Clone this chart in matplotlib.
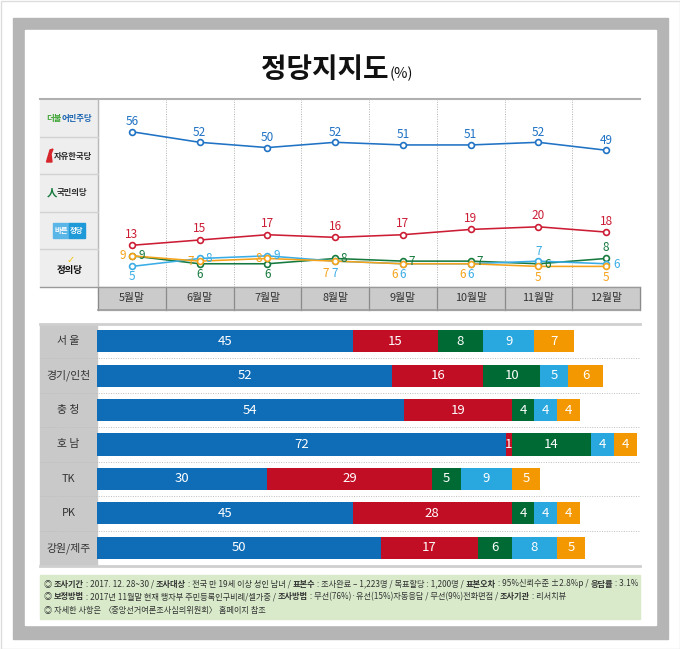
import matplotlib
matplotlib.use('Agg')
import matplotlib.pyplot as plt
from matplotlib.patches import Rectangle, Polygon
from matplotlib.lines import Line2D
from matplotlib.transforms import blended_transform_factory

plt.rcParams['font.family'] = ['Noto Sans CJK KR', 'DejaVu Sans']

# ---------------- data ----------------
months = ['5월말', '6월말', '7월말', '8월말', '9월말', '10월말', '11월말', '12월말']
parties = ['더불어민주당', '자유한국당', '국민의당', '바른정당', '정의당']
minjoo = [56, 52, 50, 52, 51, 51, 52, 49]
hankook = [13, 15, 17, 16, 17, 19, 20, 18]
kookmin = [9, 6, 6, 8, 7, 7, 6, 8]
bareun = [5, 8, 9, 7, 6, 6, 7, 6]
jeongui = [9, 7, 8, 7, 6, 6, 5, 5]

regions = ['서 울', '경기/인천', '충 청', '호 남', 'TK', 'PK', '강원/제주']
reg_minjoo = [45, 52, 54, 72, 30, 45, 50]
reg_hankook = [15, 16, 19, 1, 29, 28, 17]
reg_kookmin = [8, 10, 4, 14, 5, 4, 6]
reg_bareun = [9, 5, 4, 4, 9, 4, 8]
reg_jeongui = [7, 6, 4, 4, 5, 4, 5]

title = '정당지지도'
unit = '(%)'

footer1 = [('◎ ', False), ('조사기간', True), (' : 2017. 12. 28~30 / ', False), ('조사대상', True),
           (' : 전국 만 19세 이상 성인 남녀 / ', False), ('표본수', True),
           (' : 조사완료 – 1,223명 / 목표할당 : 1,200명 / ', False), ('표본오차', True),
           (' : 95%신뢰수준 ±2.8%p / ', False), ('응답률', True), (' : 3.1%', False)]
footer2 = [('◎ ', False), ('보정방법', True), (' : 2017년 11월말 현재 행자부 주민등록인구비례/셀가중 / ', False),
           ('조사방법', True), (' : 무선(76%)·유선(15%)자동응답 / 무선(9%)전화면접 / ', False),
           ('조사기관', True), (' : 리서치뷰', False)]
footer3 = [('◎ 자세한 사항은 ', False), ('〈중앙선거여론조사심의위원회〉', False), (' 홈페이지 참조', False)]

# ---------------- style ----------------
line_colors = ['#1f72c4', '#cc1d35', '#167a3e', '#3aade6', '#f5a31a']
bar_colors = ['#0f6cb6', '#c20e24', '#006a35', '#29a7df', '#f39800']
label_offsets = [
    [(0, 10)] * 8,
    [(0, 11)] * 8,
    [(10, 0), (0, -11), (0, -11), (9, 0), (9, 0), (9, 0), (9, -1), (0, 11)],
    [(0, -10), (9, 0), (9, 0), (0, -12), (0, -11), (0, -11), (0, 10), (10, -1)],
    [(-9, 0), (-9, 0), (-9, 0), (-9, -12), (-8, -11), (-8, -11), (0, -11), (0, -11)],
]

W, H = 680, 649
fig = plt.figure(figsize=(W / 100, H / 100), dpi=100)
renderer = fig.canvas.get_renderer()


def fx(x):
    return x / W


def fy(y):
    return 1 - y / H


def rect(x0, y0, x1, y1, z=-2, **kw):
    r = Rectangle((fx(x0), fy(y1)), (x1 - x0) / W, (y1 - y0) / H,
                  transform=fig.transFigure, zorder=z, **kw)
    fig.patches.append(r)
    return r


def hline(x0, x1, y, z=3, **kw):
    fig.add_artist(Line2D([fx(x0), fx(x1)], [fy(y), fy(y)], transform=fig.transFigure, zorder=z, **kw))


def vline(x, y0, y1, z=3, **kw):
    fig.add_artist(Line2D([fx(x), fx(x)], [fy(y0), fy(y1)], transform=fig.transFigure, zorder=z, **kw))


def seg_width(txt, size, bold):
    t1 = fig.text(0, 0, txt + '|', fontsize=size, fontweight='bold' if bold else 'normal')
    t2 = fig.text(0, 0, '|', fontsize=size, fontweight='bold' if bold else 'normal')
    w = t1.get_window_extent(renderer).width - t2.get_window_extent(renderer).width
    t1.remove()
    t2.remove()
    return w


def rich(x, y, segs, size, color='#333333', z=5, ha='left'):
    widths = [seg_width(s[0], size, s[1]) for s in segs]
    total = sum(widths)
    cur = x if ha == 'left' else x - total / 2
    for (s, w) in zip(segs, widths):
        txt, bold = s[0], s[1]
        col = s[2] if len(s) > 2 else color
        fig.text(fx(cur), fy(y), txt, fontsize=size, fontweight='bold' if bold else 'normal',
                 va='center', ha='left', color=col, zorder=z)
        cur += w
    return total


# ---------------- frame ----------------
rect(0.5, 0.5, 679.5, 648.5, z=-5, fill=False, edgecolor='#dddddd', lw=1)
rect(13, 18, 668, 639, z=-4, color='#b5b5b5')
rect(25, 30, 656, 625, z=-3, color='white')

fig.text(fx(388), fy(78), title, ha='right', va='baseline', fontsize=20,
         fontweight='bold', color='#111111')
fig.text(fx(390), fy(78), unit, ha='left', va='baseline', fontsize=10.5, color='#111111')

# ---------------- line chart ----------------
top, bot = 99, 287
ax1 = fig.add_axes([fx(98), fy(bot), (640 - 98) / W, (bot - top) / H])
ax1.set_xlim(-0.5, 7.5)
ax1.set_ylim(-2.8, 68.4)
ax1.axis('off')
ax1.patch.set_visible(False)

for i in range(len(months) - 1):
    ax1.axvline(i + 0.5, color='#b0b0b0', ls=(0, (1, 1.5)), lw=0.7, zorder=1)

series = [minjoo, hankook, kookmin, bareun, jeongui]
xs = list(range(len(months)))
for k, (vals, col) in enumerate(zip(series, line_colors)):
    ax1.plot(xs, vals, color=col, lw=1.15, marker='o', ms=4.2, mfc='white',
             mec=col, mew=1.2, zorder=3 + k)
for k, (vals, col) in enumerate(zip(series, line_colors)):
    for i, v in enumerate(vals):
        dx, dy = label_offsets[k][i]
        ax1.annotate(str(v), (i, v), xytext=(dx, dy), textcoords='offset pixels',
                     ha='center', va='center', fontsize=8.5, color=col, zorder=10)

# table lines / legend column
hline(40, 640, top, color='#b0b0b0', lw=1.5)
vline(98, top, bot, color='#b8b8b8', lw=1)
bounds = [99, 137, 174, 212, 249, 287]
for j in range(5):
    rect(40, bounds[j] + 1, 97.5, bounds[j + 1] - 1, color='#eeeeee')
for b in bounds[1:-1]:
    hline(40, 97.5, b, color='#d2d2d2', lw=1)
cy = [(bounds[j] + bounds[j + 1]) / 2 for j in range(5)]

# 더불어민주당
rich(69, cy[0], [('더불', True, '#3fa535'), ('어민주당', True, '#1a64b0')], 6.0, ha='center')
# 자유한국당
fig.patches.append(Polygon([(fx(46.5), fy(162)), (fx(50), fy(150)), (fx(53), fy(149)),
                            (fx(51), fy(154)), (fx(52), fy(162))],
                           closed=True, transform=fig.transFigure, color='#d6262c', zorder=5))
fig.text(fx(53.5), fy(cy[1] + 0.5), parties[1], fontsize=6.0, fontweight='bold',
         color='#2b2b2b', va='center', ha='left', zorder=5)
# 국민의당
fig.text(fx(51.5), fy(cy[2]), '人', fontsize=7.5, fontweight='bold', color='#167a3e',
         va='center', ha='center', zorder=5)
fig.text(fx(57), fy(cy[2]), parties[2], fontsize=6.0, fontweight='bold', color='#2b2b2b',
         va='center', ha='left', zorder=5)
# 바른정당
rect(53, cy[3] - 7.5, 69, cy[3] + 7.5, z=4, color='#5bb6e8')
rect(69, cy[3] - 7.5, 85, cy[3] + 7.5, z=4, color='#1e9ad8')
fig.text(fx(61), fy(cy[3]), '바른', fontsize=5.3, fontweight='bold', color='white',
         va='center', ha='center', zorder=6)
fig.text(fx(77), fy(cy[3]), '정당', fontsize=5.3, fontweight='bold', color='white',
         va='center', ha='center', zorder=6)
# 정의당
fig.text(fx(70), fy(cy[4] + 2), parties[4], fontsize=6.8, fontweight='bold', color='#111111',
         va='center', ha='center', zorder=5)
fig.text(fx(71), fy(cy[4] - 8), '✓', fontsize=7, fontweight='bold', color='#f2c200',
         va='center', ha='center', zorder=6, family=['DejaVu Sans'])

# month header
rect(98, 287, 640, 310, color='#cbcbcb')
hline(40, 640, 287, color='#9a9a9a', lw=1)
hline(98, 640, 310, color='#9a9a9a', lw=1.2)
bt = blended_transform_factory(ax1.transData, fig.transFigure)
for i, m in enumerate(months):
    ax1.text(i, fy(298.5), m, transform=bt, ha='center', va='center', fontsize=7.8,
             color='#333333', clip_on=False)
for i in range(len(months) + 1):
    ax1.plot([i - 0.5, i - 0.5], [fy(287), fy(310)], transform=bt, color='#8a8a8a',
             lw=0.9, clip_on=False, zorder=2)

# ---------------- bar chart ----------------
btop, bbot = 324, 565
ax2 = fig.add_axes([fx(97), fy(bbot), (640 - 97) / W, (bbot - btop) / H])
ax2.set_xlim(0, 95.6)
ax2.set_ylim(len(regions) - 0.5, -0.5)
ax2.axis('off')
ax2.patch.set_visible(False)

rect(40, btop, 97, bbot, color='#c9c9c9')
hline(40, 640, btop, color='#cfcfcf', lw=2)
hline(40, 640, bbot + 0.5, color='#cfcfcf', lw=2)

bt2 = blended_transform_factory(fig.transFigure, ax2.transData)
for i in range(len(regions) - 1):
    ax2.plot([fx(40), fx(640)], [i + 0.5, i + 0.5], transform=bt2, color='#bdbdbd',
             lw=0.7, ls=(0, (1, 1.5)), clip_on=False, zorder=1)

reg_series = [reg_minjoo, reg_hankook, reg_kookmin, reg_bareun, reg_jeongui]
ys = list(range(len(regions)))
left = [0] * len(regions)
for vals, col in zip(reg_series, bar_colors):
    ax2.barh(ys, vals, left=left, height=0.64, color=col, edgecolor='none', zorder=3)
    for i, v in enumerate(vals):
        ax2.text(left[i] + v / 2, i, str(v), ha='center', va='center', fontsize=9.5,
                 color='white', zorder=5)
    left = [a + b for a, b in zip(left, vals)]

for i, r in enumerate(regions):
    ax2.text(fx(68.5), i, r, transform=bt2, ha='center', va='center', fontsize=7.8,
             color='#333333', clip_on=False)

# ---------------- footer ----------------
rect(40, 575, 640, 619, color='#d8eaca')
base = 6.0
tw = sum(seg_width(s[0], base, s[1]) for s in footer1)
fsize = base * 592 / tw
rich(44, 584, footer1, fsize)
rich(44, 597, footer2, fsize)
rich(44, 610, footer3, fsize)

fig.savefig('out.png', dpi=100)
